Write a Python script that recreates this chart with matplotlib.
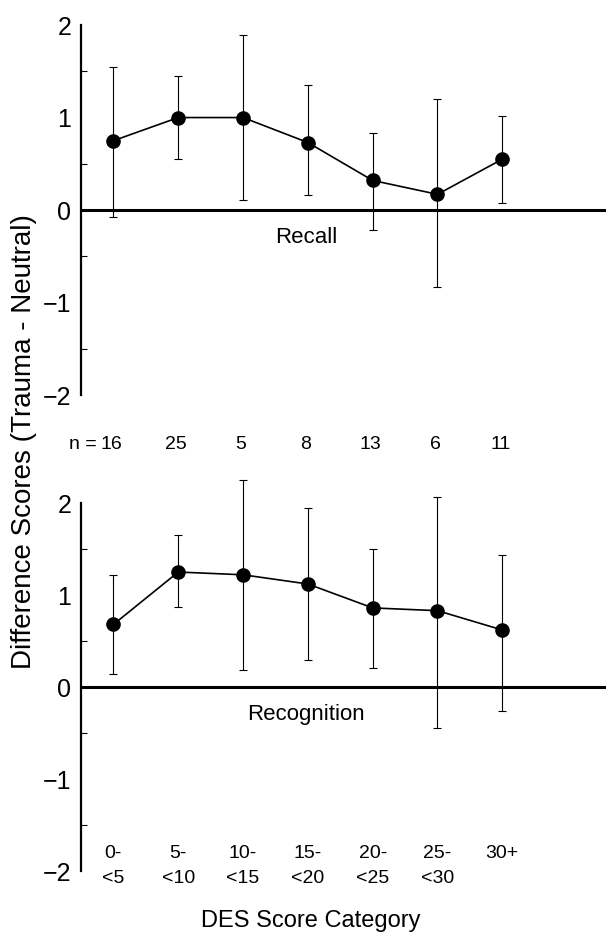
import numpy as np
import matplotlib
matplotlib.use('Agg')
import matplotlib.pyplot as plt

plt.rcParams['font.family'] = ['Liberation Sans', 'DejaVu Sans']

categories = ['0-\n<5', '5-\n<10', '10-\n<15', '15-\n<20', '20-\n<25', '25-\n<30', '30+']
n_counts = [16, 25, 5, 8, 13, 6, 11]

# Recall: mean, upper end and lower end of the error bar
recall_mean = [0.75, 1.00, 1.00, 0.73, 0.32, 0.17, 0.55]
recall_hi = [1.55, 1.45, 1.89, 1.35, 0.83, 1.20, 1.02]
recall_lo = [-0.08, 0.55, 0.11, 0.16, -0.22, -0.83, 0.08]

# Recognition
recog_mean = [0.68, 1.25, 1.22, 1.12, 0.86, 0.83, 0.62]
recog_hi = [1.22, 1.65, 2.25, 1.95, 1.50, 2.07, 1.43]
recog_lo = [0.14, 0.87, 0.18, 0.29, 0.21, -0.45, -0.26]

x = np.arange(1, len(categories) + 1)

fig = plt.figure(figsize=(6.06, 9.35), dpi=100)
ax_top = fig.add_axes([0.1337, 0.5775, 0.8663, 0.3957])
ax_bot = fig.add_axes([0.1337, 0.0684, 0.8663, 0.3936])


def draw_panel(ax, mean, hi, lo, label):
    mean = np.array(mean)
    err = [mean - np.array(lo), np.array(hi) - mean]
    ax.axhline(0, color='black', lw=2.2, zorder=1)
    eb = ax.errorbar(x, mean, yerr=err, fmt='none', ecolor='black', elinewidth=0.8,
                     capsize=3, capthick=0.8, zorder=2)
    for art in eb.lines[1] + eb.lines[2]:
        art.set_clip_on(False)
    ax.plot(x, mean, color='black', lw=1.2, marker='o', markersize=9.5, zorder=3,
            clip_on=False)
    ax.set_xlim(0.5, 8.6)
    ax.set_ylim(-2, 2)
    for s in ['top', 'right', 'bottom']:
        ax.spines[s].set_visible(False)
    ax.spines['left'].set_linewidth(1.6)
    ax.set_xticks([])
    ax.set_yticks([-2, -1, 0, 1, 2])
    ax.set_yticks([-1.5, -0.5, 0.5, 1.5], minor=True)
    ax.tick_params(axis='y', which='major', length=0, pad=7, labelsize=18)
    ax.tick_params(axis='y', which='minor', direction='in', length=4, width=0.8)
    ax.text(3.97, -0.3, label, ha='center', va='center', fontsize=16)


draw_panel(ax_top, recall_mean, recall_hi, recall_lo, 'Recall')
draw_panel(ax_bot, recog_mean, recog_hi, recog_lo, 'Recognition')

# sample sizes between the panels
ax_top.text(x[0] - 0.25, -2.53, 'n =', ha='right', va='center', fontsize=14,
            clip_on=False)
for xi, n in zip(x, n_counts):
    ax_top.text(xi - 0.03, -2.53, str(n), ha='center', va='center', fontsize=14,
                clip_on=False)

# category labels
for xi, c in zip(x, categories):
    ax_bot.text(xi, -1.72, c, ha='center', va='top', fontsize=14,
                linespacing=1.6, clip_on=False)

fig.text(0.512, 0.015, 'DES Score Category', ha='center', va='center', fontsize=17)
fig.text(0.04, 0.528, 'Difference Scores (Trauma - Neutral)', rotation=90,
         ha='center', va='center', fontsize=20)

fig.savefig('out.png', dpi=100)
